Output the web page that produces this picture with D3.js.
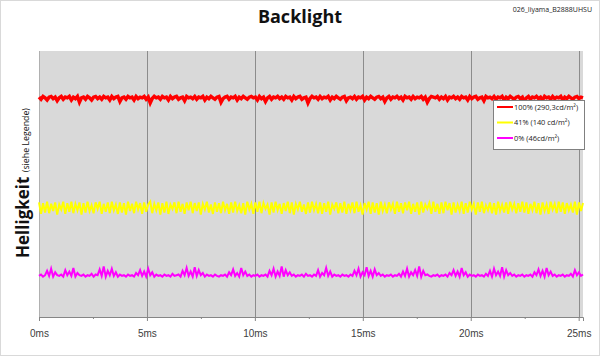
<!DOCTYPE html>
<html><head><meta charset="utf-8">
<script src="https://cdn.jsdelivr.net/npm/d3@7"></script>
<style>body{margin:0;background:#fff}svg{display:block}</style>
</head><body>
<script>
const title = "Backlight";
const fileLabel = "026_Iiyama_B2888UHSU";
const xTicks = [0, 5, 10, 15, 20, 25];
const xMinorTicks = [2.5, 7.5, 12.5, 17.5, 22.5];
const xMax = 25.2;
const seriesNames = ["100% (290,3cd/m²)", "41% (140 cd/m²)", "0% (46cd/m²)"];
const seriesColors = ["#ff0000", "#ffff00", "#ff00ff"];
const red = [
290,287,291,289,286,290,291,288,290,285,289,291,287,290,289,
291,286,290,288,291,283,289,290,287,291,289,286,290,291,288,
290,287,291,289,290,286,291,288,290,291,284,289,290,287,291,
289,290,286,291,288,290,289,291,287,290,282,288,291,289,290,
287,291,289,290,286,291,288,290,291,287,289,290,285,291,289,
290,288,291,287,290,289,291,286,290,288,291,289,287,290,291,
283,288,290,291,287,290,289,291,286,290,288,291,289,287,290,
291,289,290,286,291,288,290,284,289,291,287,290,289,291,288,
290,287,291,289,290,286,291,288,290,291,287,289,290,282,288,
291,289,290,287,291,288,290,289,291,286,290,288,291,289,287,
290,291,285,289,290,288,291,287,290,289,291,286,290,288,291,
289,287,290,291,288,290,284,289,291,287,290,289,291,288,290,
286,291,289,290,287,291,288,290,289,291,287,290,283,288,291,
290,289,291,287,290,288,291,286,290,289,291,288,290,287,291,
289,290,286,291,288,290,291,287,289,290,285,291,289,290,288,
291,287,290,289,291,286,290,288,291,289,287,290,291,288,290,
284,289,291,287,290,289,291,288,290,286,291,289,290,287,291,
288,290,289,291,286,290,288,291,289,287,290,291,288,290,289];
const yellow = [
144,128,143,130,145,129,142,132,144,127,141,134,145,128,143,
131,145,129,142,133,144,127,143,130,145,132,140,129,144,135,
145,128,142,131,144,129,145,133,141,128,144,130,143,127,145,
132,142,129,145,134,143,128,144,131,141,145,129,142,133,144,
127,143,130,145,128,141,135,144,129,145,131,142,128,144,133,
145,129,143,132,144,127,142,134,145,130,141,128,144,131,143,
129,145,133,142,128,144,130,145,132,140,129,143,127,145,134,
142,128,144,131,145,129,143,135,141,127,144,130,145,133,142,
128,143,132,145,129,144,127,142,134,145,131,141,128,144,130,
145,133,142,129,144,128,143,131,145,127,141,135,144,129,143,
130,145,128,142,133,144,129,145,131,140,127,143,134,145,128,
144,130,143,127,145,132,141,129,144,134,142,128,145,131,143,
129,144,133,145,128,142,131,144,127,145,130,141,135,143,128,
145,131,142,128,144,129,145,133,143,127,144,130,141,132,145,
128,143,130,145,134,142,127,144,131,145,129,140,133,144,129,
143,127,145,132,141,130,144,128,145,134,142,129,143,131,145,
130,144,128,142,133,145,129,143,127,144,132,141,128,145,134,
142,129,145,131,144,128,143,133,141,130,145,127,144,132,143];
const magenta = [
42,44,41,43,49,42,52,41,47,43,42,44,41,50,43,
48,42,53,41,46,43,42,44,41,43,42,45,41,44,43,
51,42,55,41,49,43,52,42,47,41,44,42,43,41,44,
42,43,41,46,43,50,42,48,41,52,43,47,41,44,42,
43,41,44,42,43,41,45,42,43,44,41,49,43,53,42,
48,41,54,42,50,43,46,41,44,42,43,41,44,42,41,
43,42,44,41,47,43,51,42,46,41,53,43,48,42,44,
41,43,42,44,41,43,42,44,41,49,43,52,41,48,42,
55,41,50,43,47,42,44,41,43,42,44,41,45,42,43,
41,44,42,50,41,46,43,53,42,48,41,44,42,43,41,
44,42,43,41,44,42,49,43,52,41,47,43,54,42,49,
41,51,43,46,42,44,41,43,42,44,41,43,42,45,41,
48,42,52,41,47,43,50,42,55,41,49,43,44,42,41,
43,42,44,41,43,42,44,41,46,43,50,42,48,41,53,
43,47,41,44,42,43,41,44,42,43,41,45,42,49,41,
52,43,48,42,54,41,50,43,46,42,44,41,43,42,44,
41,43,42,44,41,47,43,51,42,49,41,53,43,48,42,
44,41,43,42,44,41,43,42,45,41,50,43,47,42,44];
const series = [red, yellow, magenta];

const W = 600, H = 356;
const m = {left: 39, right: 17, top: 51, bottom: 39};
const svg = d3.select("body").append("svg").attr("width", W).attr("height", H)
  .style("font-family", "'Open Sans', sans-serif");
svg.append("rect").attr("x", 0.5).attr("y", 0.5).attr("width", W - 1).attr("height", H - 1)
  .attr("fill", "#fff").attr("stroke", "#d9d9d9");

const x = d3.scaleLinear().domain([0, xMax]).range([m.left, W - m.right]);
const y = d3.scaleLinear().domain([-15, 354]).range([H - m.bottom, m.top]);

svg.append("rect").attr("x", m.left).attr("y", m.top)
  .attr("width", W - m.left - m.right).attr("height", H - m.top - m.bottom)
  .attr("fill", "#d9d9d9");

// gridlines
svg.append("g").selectAll("line").data(xTicks.slice(1)).join("line")
  .attr("x1", d => Math.round(x(d)) + 0.5).attr("x2", d => Math.round(x(d)) + 0.5)
  .attr("y1", m.top).attr("y2", H - m.bottom)
  .attr("stroke", "#8c8c8c").attr("stroke-width", 1);

// x axis
const xAxis = d3.axisBottom(x).tickValues(xTicks).tickSize(4).tickFormat(d => d + "ms");
const gx = svg.append("g").attr("transform", `translate(0,${H - m.bottom})`).call(xAxis);
gx.select(".domain").attr("stroke", "#868686");
gx.selectAll(".tick line").attr("stroke", "#868686");
gx.selectAll(".tick text").attr("fill", "#404040").attr("font-size", 10).attr("dy", "1.3em");
const gxm = svg.append("g").attr("transform", `translate(0,${H - m.bottom})`)
  .call(d3.axisBottom(x).tickValues(xMinorTicks).tickSize(2).tickFormat(""));
gxm.select(".domain").remove();
gxm.selectAll(".tick line").attr("stroke", "#868686");
svg.append("line").attr("x1", m.left + 0.5).attr("x2", m.left + 0.5)
  .attr("y1", m.top).attr("y2", H - m.bottom).attr("stroke", "#b0b0b0");

// lines
const widths = [3.5, 2, 2];
series.forEach((s, i) => {
  const n = s.length;
  const line = d3.line().x((d, j) => x(j * xMax / (n - 1))).y(d => y(d));
  svg.append("path").datum(s).attr("d", line).attr("fill", "none")
    .attr("stroke", seriesColors[i]).attr("stroke-width", widths[i])
    .attr("stroke-linejoin", "miter");
});

// legend
const lg = svg.append("g");
lg.append("rect").attr("x", 493.5).attr("y", 100.5).attr("width", 91).attr("height", 49)
  .attr("fill", "#fff").attr("stroke", "#808080");
seriesNames.forEach((nm, i) => {
  const yy = 107 + i * 15.5;
  lg.append("line").attr("x1", 497).attr("x2", 513).attr("y1", yy).attr("y2", yy)
    .attr("stroke", seriesColors[i]).attr("stroke-width", 2);
  lg.append("text").attr("x", 514).attr("y", yy + 2.5).attr("font-size", 7.4)
    .attr("fill", "#222").text(nm);
});

// titles
svg.append("text").attr("x", 300).attr("y", 23).attr("text-anchor", "middle")
  .attr("font-size", 18).attr("font-weight", "bold").attr("fill", "#111").text(title);
svg.append("text").attr("x", 592).attr("y", 12).attr("text-anchor", "end")
  .attr("font-size", 7).attr("fill", "#222").text(fileLabel);
const yl = svg.append("text").attr("transform", "translate(29,183) rotate(-90)")
  .attr("text-anchor", "middle").attr("fill", "#111");
yl.append("tspan").attr("font-size", 17).attr("font-weight", "bold").text("Helligkeit ");
yl.append("tspan").attr("font-size", 8.8).text("(siehe Legende)");
</script>
</body></html>
